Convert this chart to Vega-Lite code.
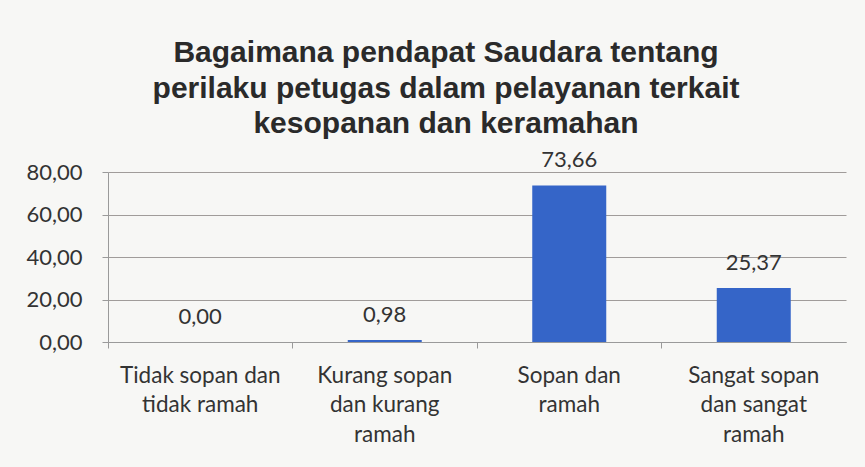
{
  "$schema": "https://vega.github.io/schema/vega-lite/v6.json",
  "autosize": "none",
  "width": 738,
  "height": 170,
  "padding": {"left": 108, "top": 172, "right": 19, "bottom": 125},
  "background": "#f7f7f5",
  "title": {
    "text": ["Bagaimana pendapat Saudara tentang", "perilaku petugas dalam pelayanan terkait", "kesopanan dan keramahan"],
    "font": "Liberation Sans",
    "fontSize": 30,
    "fontWeight": "bold",
    "color": "#2a2a2a",
    "lineHeight": 35.5,
    "anchor": "middle",
    "dx": -31,
    "offset": 10
  },
  "data": {
    "values": [
      {"kategori": "Tidak sopan dan tidak ramah", "nilai": 0.00},
      {"kategori": "Kurang sopan dan kurang ramah", "nilai": 0.98},
      {"kategori": "Sopan dan ramah", "nilai": 73.66},
      {"kategori": "Sangat sopan dan sangat ramah", "nilai": 25.37}
    ]
  },
  "encoding": {
    "x": {
      "field": "kategori",
      "type": "nominal",
      "sort": null,
      "title": null,
      "scale": {"paddingInner": 0, "paddingOuter": 0},
      "axis": {
        "labelAngle": 0,
        "labelFont": "Lato",
        "labelFontSize": 22.5,
        "labelColor": "#333333",
        "labelLineHeight": 29.5,
        "labelPadding": 16,
        "labelBaseline": "top",
        "bandPosition": 0,
        "tickSize": 6,
        "tickColor": "#9a9a9a",
        "domainColor": "#9a9a9a",
        "grid": false,
        "labelExpr": "datum.value == 'Tidak sopan dan tidak ramah' ? ['Tidak sopan dan', 'tidak ramah'] : datum.value == 'Kurang sopan dan kurang ramah' ? ['Kurang sopan', 'dan kurang', 'ramah'] : datum.value == 'Sopan dan ramah' ? ['Sopan dan', 'ramah'] : ['Sangat sopan', 'dan sangat', 'ramah']"
      }
    },
    "y": {
      "field": "nilai",
      "type": "quantitative",
      "title": null,
      "scale": {"domain": [0, 80], "nice": false},
      "axis": {
        "values": [0, 20, 40, 60, 80],
        "format": ".2f",
        "labelFont": "Lato",
        "labelFontSize": 22,
        "labelColor": "#333333",
        "labelPadding": 20,
        "tickSize": 6,
        "tickColor": "#9a9a9a",
        "domainColor": "#9a9a9a",
        "gridColor": "#a09c9a",
        "gridWidth": 1
      }
    }
  },
  "layer": [
    {"mark": {"type": "bar", "size": 74, "color": "#3565c8"}},
    {
      "mark": {"type": "text", "font": "Lato", "fontSize": 22, "color": "#333333", "baseline": "bottom", "dy": -13},
      "encoding": {"text": {"field": "nilai", "type": "quantitative", "format": ".2f"}}
    }
  ],
  "config": {
    "view": {"stroke": null},
    "locale": {"number": {"decimal": ",", "thousands": ".", "grouping": [3], "currency": ["", ""]}}
  }
}
